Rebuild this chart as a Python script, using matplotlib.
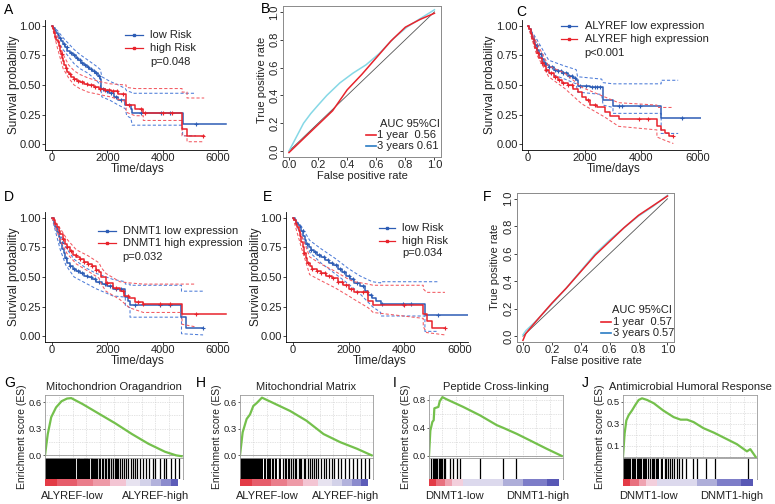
import numpy as np
import matplotlib
matplotlib.use("Agg")
import matplotlib.pyplot as plt

plt.rcParams['font.family'] = ['Liberation Sans', 'DejaVu Sans']
plt.rcParams['axes.linewidth'] = 0.6

# ---------------- data ----------------
# Panel A (risk model, KM)
A_low_t = [0, 50, 100, 150, 200, 260, 320, 400, 480, 560, 650, 750, 850, 950, 1050, 1150, 1250, 1350, 1450, 1550, 1650, 1720, 1780, 1900, 2050, 2250, 2400, 2650, 2850, 2900, 4720]
A_low_s = [1.0, 0.98, 0.96, 0.94, 0.92, 0.90, 0.87, 0.85, 0.82, 0.79, 0.77, 0.75, 0.73, 0.71, 0.69, 0.67, 0.65, 0.635, 0.62, 0.60, 0.58, 0.55, 0.47, 0.45, 0.43, 0.40, 0.37, 0.33, 0.30, 0.26, 0.17]
A_low_end = 6300
A_low_ci_t = [0, 200, 400, 600, 800, 1000, 1300, 1600, 1750, 1800, 2100, 2400, 2650, 2700, 2850, 2900, 4720, 4720, 5200]
A_low_up = [1.0, 0.96, 0.90, 0.85, 0.80, 0.76, 0.71, 0.66, 0.63, 0.57, 0.53, 0.50, 0.47, 0.45, 0.44, 0.43, 0.43, 0.43, 0.43]
A_low_lo = [1.0, 0.88, 0.80, 0.74, 0.68, 0.64, 0.60, 0.54, 0.50, 0.40, 0.37, 0.33, 0.30, 0.24, 0.22, 0.16, 0.16, 0.07, 0.07]
A_low_cens = [300, 420, 550, 680, 800, 900, 1000, 1100, 1200, 1300, 1400, 1500, 1600, 1700, 1850, 2000, 2150, 2300, 2500, 3200, 3950, 4250, 5200]

A_high_t = [0, 40, 80, 120, 160, 200, 240, 280, 320, 360, 400, 450, 500, 560, 620, 700, 800, 900, 1000, 1150, 1300, 1500, 1700, 1900, 2150, 2400, 2680, 3000, 3300, 4700, 4880]
A_high_s = [1.0, 0.97, 0.94, 0.91, 0.88, 0.86, 0.83, 0.79, 0.76, 0.73, 0.70, 0.67, 0.64, 0.61, 0.59, 0.57, 0.55, 0.535, 0.525, 0.51, 0.50, 0.48, 0.47, 0.46, 0.45, 0.42, 0.33, 0.30, 0.26, 0.13, 0.07]
A_high_end = 5500
A_high_ci_t = [0, 200, 400, 600, 800, 1000, 1300, 1700, 2100, 2680, 2680, 3000, 3300, 3300, 4700, 4700, 4880, 4880, 5500]
A_high_up = [1.0, 0.91, 0.76, 0.67, 0.62, 0.59, 0.56, 0.53, 0.51, 0.50, 0.48, 0.47, 0.47, 0.47, 0.47, 0.44, 0.44, 0.39, 0.39]
A_high_lo = [1.0, 0.81, 0.64, 0.56, 0.50, 0.47, 0.44, 0.42, 0.40, 0.36, 0.27, 0.24, 0.24, 0.20, 0.20, 0.07, 0.07, 0.02, 0.02]
A_high_cens = [350, 500, 650, 800, 950, 1100, 1250, 1400, 1550, 1750, 1900, 2050, 2200, 2350, 2550, 2800, 3200, 3350, 4000, 4350, 5450]

# Panel C (ALYREF expression, KM)
C_low_t = [0, 50, 100, 150, 200, 260, 330, 400, 480, 560, 650, 750, 900, 1050, 1200, 1400, 1600, 1700, 1750, 2200, 2650, 3000, 4700]
C_low_s = [1.0, 0.97, 0.94, 0.91, 0.88, 0.84, 0.80, 0.76, 0.72, 0.69, 0.67, 0.65, 0.63, 0.615, 0.60, 0.58, 0.56, 0.54, 0.49, 0.48, 0.37, 0.32, 0.22]
C_low_end = 6150
C_low_ci_t = [0, 300, 730, 1300, 1700, 1750, 2600, 2650, 3000, 3000, 4700, 4700, 5300]
C_low_up = [1.0, 0.89, 0.71, 0.66, 0.63, 0.57, 0.55, 0.52, 0.51, 0.51, 0.51, 0.54, 0.54]
C_low_lo = [1.0, 0.80, 0.60, 0.55, 0.51, 0.44, 0.42, 0.33, 0.31, 0.26, 0.26, 0.09, 0.09]
C_low_cens = [300, 450, 600, 750, 850, 950, 1050, 1150, 1250, 1350, 1450, 1550, 1650, 1850, 2050, 2250, 2350, 2450, 2550, 3200, 3300, 3950, 5450]

C_high_t = [0, 50, 100, 150, 200, 260, 330, 400, 480, 560, 650, 750, 900, 1050, 1200, 1400, 1600, 1750, 1900, 2050, 2200, 2450, 2700, 2900, 3200, 4550, 4700, 4850, 4980]
C_high_s = [1.0, 0.97, 0.93, 0.89, 0.85, 0.81, 0.77, 0.73, 0.69, 0.66, 0.63, 0.60, 0.57, 0.545, 0.52, 0.50, 0.47, 0.44, 0.40, 0.37, 0.33, 0.31, 0.27, 0.24, 0.21, 0.155, 0.12, 0.09, 0.065]
C_high_end = 5130
C_high_ci_t = [0, 300, 730, 1300, 1900, 2700, 3200, 4550, 4550, 4850, 5130]
C_high_up = [1.0, 0.86, 0.66, 0.60, 0.48, 0.40, 0.35, 0.33, 0.31, 0.31, 0.31]
C_high_lo = [1.0, 0.76, 0.57, 0.47, 0.34, 0.23, 0.15, 0.12, 0.06, 0.03, 0.005]
C_high_cens = [350, 500, 650, 800, 950, 1100, 1250, 1400, 1550, 2100, 2350, 3900, 4250, 5130]

# Panel D (DNMT1 expression, KM)
D_low_t = [0, 60, 120, 180, 240, 300, 360, 420, 480, 560, 650, 750, 850, 1000, 1150, 1300, 1450, 1600, 1800, 2000, 2200, 2650, 2750, 2820, 4680, 4850]
D_low_s = [1.0, 0.96, 0.92, 0.88, 0.84, 0.79, 0.74, 0.70, 0.66, 0.62, 0.59, 0.57, 0.55, 0.53, 0.51, 0.50, 0.48, 0.46, 0.445, 0.42, 0.40, 0.33, 0.30, 0.26, 0.16, 0.07]
D_low_end = 5460
D_low_ci_t = [0, 300, 500, 800, 1200, 1600, 2200, 2650, 2650, 2820, 2820, 4680, 4680, 5460]
D_low_up = [1.0, 0.86, 0.75, 0.65, 0.58, 0.53, 0.48, 0.46, 0.44, 0.44, 0.43, 0.43, 0.38, 0.38]
D_low_lo = [1.0, 0.73, 0.60, 0.50, 0.45, 0.40, 0.34, 0.33, 0.26, 0.24, 0.16, 0.16, 0.02, 0.01]
D_low_cens = [350, 500, 650, 800, 950, 1100, 1250, 1400, 1550, 1700, 1900, 2100, 2300, 2500, 3000, 3900, 4250, 5460]

D_high_t = [0, 60, 120, 180, 240, 300, 380, 460, 540, 640, 760, 880, 1000, 1150, 1300, 1450, 1600, 1700, 1780, 1950, 2200, 2450, 2600, 2800, 3000, 3300, 4700]
D_high_s = [1.0, 0.98, 0.95, 0.92, 0.89, 0.86, 0.82, 0.78, 0.75, 0.72, 0.69, 0.67, 0.65, 0.63, 0.61, 0.59, 0.56, 0.54, 0.50, 0.45, 0.41, 0.38, 0.34, 0.32, 0.29, 0.27, 0.185]
D_high_end = 6300
D_high_ci_t = [0, 300, 540, 880, 1300, 1700, 1780, 1950, 2450, 2800, 3300, 4700, 4700, 5150]
D_high_up = [1.0, 0.91, 0.82, 0.73, 0.68, 0.62, 0.58, 0.53, 0.46, 0.45, 0.44, 0.44, 0.44, 0.44]
D_high_lo = [1.0, 0.81, 0.70, 0.61, 0.55, 0.49, 0.44, 0.38, 0.31, 0.24, 0.20, 0.20, 0.10, 0.08]
D_high_cens = [400, 550, 700, 850, 1000, 1150, 1300, 1450, 1600, 2000, 2300, 2550, 2750, 3100, 3300, 3900, 4250, 5200]

# Panel E (risk model, KM)
E_low_t = [0, 60, 120, 180, 240, 300, 360, 420, 480, 560, 650, 750, 850, 1000, 1150, 1300, 1450, 1600, 1750, 1900, 2050, 2200, 2400, 2600, 2700, 2850, 3000, 3150, 4740]
E_low_s = [1.0, 0.98, 0.96, 0.94, 0.92, 0.89, 0.85, 0.81, 0.78, 0.75, 0.73, 0.71, 0.69, 0.67, 0.64, 0.62, 0.60, 0.57, 0.54, 0.51, 0.48, 0.45, 0.42, 0.38, 0.35, 0.32, 0.30, 0.27, 0.18]
E_low_end = 6300
E_low_ci_t = [0, 300, 600, 1000, 1500, 2000, 2400, 2850, 3150, 3150, 4740, 4740, 5220]
E_low_up = [1.0, 0.93, 0.81, 0.74, 0.66, 0.57, 0.51, 0.46, 0.45, 0.46, 0.46, 0.46, 0.46]
E_low_lo = [1.0, 0.85, 0.71, 0.62, 0.53, 0.44, 0.36, 0.25, 0.20, 0.17, 0.17, 0.04, 0.04]
E_low_cens = [350, 500, 650, 800, 950, 1100, 1250, 1400, 1550, 1700, 1850, 2000, 2150, 2300, 2500, 2800, 3200, 3950, 4250, 5200]

E_high_t = [0, 50, 100, 150, 200, 250, 300, 350, 400, 450, 520, 600, 700, 850, 1000, 1200, 1400, 1600, 1800, 2000, 2200, 2700, 2880, 4680, 4800, 5000]
E_high_s = [1.0, 0.98, 0.95, 0.92, 0.89, 0.85, 0.80, 0.75, 0.70, 0.66, 0.62, 0.59, 0.57, 0.55, 0.535, 0.51, 0.49, 0.46, 0.43, 0.40, 0.375, 0.30, 0.26, 0.185, 0.13, 0.065]
E_high_end = 5460
E_high_ci_t = [0, 300, 600, 1000, 1500, 2000, 2200, 2700, 2880, 4680, 4680, 4800, 5460]
E_high_up = [1.0, 0.86, 0.67, 0.61, 0.55, 0.48, 0.46, 0.44, 0.43, 0.43, 0.40, 0.37, 0.37]
E_high_lo = [1.0, 0.75, 0.52, 0.47, 0.41, 0.34, 0.31, 0.24, 0.20, 0.15, 0.08, 0.03, 0.01]
E_high_cens = [400, 550, 700, 850, 1000, 1150, 1300, 1450, 1600, 1750, 1900, 2100, 2300, 2500, 2650, 4000, 5460]

# ROC panels
B_fpr1 = [0, 0.05, 0.1, 0.2, 0.3, 0.4, 0.5, 0.6, 0.7, 0.8, 0.9, 1.0]
B_tpr1 = [-0.01, 0.04, 0.09, 0.19, 0.29, 0.44, 0.55, 0.67, 0.79, 0.89, 0.945, 0.99]
B_fpr3 = [0, 0.05, 0.1, 0.15, 0.2, 0.26, 0.35, 0.44, 0.53, 0.62, 0.72, 0.81, 0.9, 1.0]
B_tpr3 = [0.0, 0.1, 0.2, 0.27, 0.33, 0.40, 0.49, 0.56, 0.62, 0.70, 0.81, 0.89, 0.95, 1.015]
F_fpr1 = [0, 0.02, 0.1, 0.2, 0.3, 0.4, 0.5, 0.6, 0.7, 0.8, 0.9, 1.0]
F_tpr1 = [-0.03, 0.02, 0.12, 0.24, 0.35, 0.47, 0.59, 0.69, 0.79, 0.88, 0.95, 1.02]
F_fpr3 = [0, 0.02, 0.1, 0.2, 0.3, 0.4, 0.5, 0.6, 0.7, 0.8, 0.9, 1.0]
F_tpr3 = [0.01, 0.04, 0.12, 0.235, 0.35, 0.475, 0.60, 0.70, 0.79, 0.875, 0.945, 1.025]
roc_ticks = [0.0, 0.2, 0.4, 0.6, 0.8, 1.0]
roc_ticklabels = ["0.0", "0.2", "0.4", "0.6", "0.8", "1.0"]

# GSEA panels (x = fraction of ranked list)
G_x = [0, 0.02, 0.045, 0.08, 0.12, 0.16, 0.19, 0.27, 0.39, 0.51, 0.63, 0.75, 0.87, 0.95, 0.99]
G_es = [0, 0.24, 0.43, 0.54, 0.61, 0.64, 0.645, 0.58, 0.47, 0.36, 0.24, 0.13, 0.04, 0.0, -0.01]
G_blocks = [(0.0, 0.225), (0.236, 0.25), (0.285, 0.31), (0.33, 0.345), (0.395, 0.405), (0.46, 0.47), (0.51, 0.52)]
G_hits = [0.23, 0.255, 0.262, 0.27, 0.278, 0.315, 0.322, 0.35, 0.358, 0.365, 0.372, 0.38, 0.39, 0.41, 0.42, 0.435, 0.445, 0.455, 0.475, 0.48, 0.49, 0.505, 0.525, 0.53, 0.545, 0.56, 0.575, 0.59, 0.60, 0.62, 0.635, 0.65, 0.665, 0.69, 0.71, 0.73, 0.75, 0.78, 0.80, 0.83, 0.86, 0.88, 0.91, 0.94, 0.97]
H_x = [0, 0.02, 0.05, 0.075, 0.10, 0.126, 0.165, 0.25, 0.377, 0.5, 0.628, 0.754, 0.88, 0.99]
H_es = [0, 0.26, 0.41, 0.46, 0.556, 0.59, 0.65, 0.59, 0.50, 0.39, 0.24, 0.148, 0.074, 0.0]
H_blocks = [(0.0, 0.17), (0.18, 0.195), (0.21, 0.23), (0.26, 0.28), (0.295, 0.31), (0.34, 0.355)]
H_hits = [0.20, 0.24, 0.25, 0.29, 0.32, 0.335, 0.36, 0.37, 0.385, 0.40, 0.41, 0.42, 0.44, 0.45, 0.46, 0.48, 0.49, 0.51, 0.525, 0.54, 0.56, 0.575, 0.59, 0.61, 0.63, 0.65, 0.67, 0.69, 0.71, 0.74, 0.76, 0.79, 0.82, 0.85, 0.88, 0.91, 0.94, 0.97]
I_x = [0, 0.01, 0.025, 0.035, 0.04, 0.07, 0.08, 0.10, 0.13, 0.255, 0.38, 0.505, 0.555, 0.655, 0.755, 0.88, 0.99]
I_es = [0, 0.36, 0.485, 0.51, 0.68, 0.70, 0.78, 0.84, 0.81, 0.70, 0.58, 0.44, 0.40, 0.315, 0.22, 0.10, 0.0]
I_blocks = []
I_hits = [0.018, 0.03, 0.038, 0.048, 0.055, 0.063, 0.073, 0.08, 0.09, 0.098, 0.11, 0.118, 0.155, 0.18, 0.21, 0.23, 0.38, 0.555, 0.65]
J_x = [0, 0.012, 0.025, 0.042, 0.067, 0.092, 0.117, 0.142, 0.18, 0.23, 0.30, 0.378, 0.43, 0.478, 0.527, 0.60, 0.677, 0.776, 0.85, 0.925, 0.95, 0.99]
J_es = [0, 0.21, 0.33, 0.377, 0.42, 0.47, 0.515, 0.53, 0.515, 0.485, 0.42, 0.36, 0.337, 0.337, 0.315, 0.26, 0.22, 0.16, 0.115, 0.05, 0.07, 0.0]
J_blocks = [(0.0, 0.06), (0.07, 0.10), (0.115, 0.14), (0.16, 0.18), (0.25, 0.27), (0.29, 0.30)]
J_hits = [0.065, 0.105, 0.15, 0.19, 0.20, 0.215, 0.225, 0.235, 0.245, 0.28, 0.31, 0.32, 0.335, 0.35, 0.365, 0.38, 0.40, 0.42, 0.44, 0.47, 0.52, 0.55, 0.62, 0.69, 0.93]

ALY_edges = [0, 0.09, 0.23, 0.35, 0.47, 0.59, 0.69, 0.77, 0.84, 0.91, 0.965, 1.0]
ALY_cols = ["#e33b46", "#e65d6b", "#ea7d8b", "#ee9aa7", "#f3c5d3", "#e7e3f0", "#d3d2e9", "#b2b2dc", "#8b8bcd", "#5c5cb8", "#ffffff"]
DN_edges = [0, 0.055, 0.12, 0.17, 0.255, 0.555, 0.705, 0.88, 0.97, 1.0]
DN_cols = ["#e33b46", "#e8707e", "#efa3b1", "#f3cfdc", "#dcd9ed", "#aeaed9", "#7d7dc8", "#5858b5", "#ffffff"]

# ---------------- figure ----------------
W, H = 775, 504
fig = plt.figure(figsize=(W / 100, H / 100), dpi=100)


def rect(x0, y0, x1, y1):
    return [x0 / W, 1 - y1 / H, (x1 - x0) / W, (y1 - y0) / H]


def ftext(px, py, s, **kw):
    kw.setdefault('ha', 'center')
    kw.setdefault('va', 'center')
    fig.text(px / W, 1 - py / H, s, **kw)


BLUE, BLUE_CI = "#2d5db5", "#4d7cd8"
RED, RED_CI = "#e8232c", "#f25a62"
TXT = "#222222"


def km_axes(r, xlim):
    ax = fig.add_axes(r)
    ax.set_xlim(*xlim)
    ax.set_ylim(-0.05, 1.05)
    for sp in ['top', 'right']:
        ax.spines[sp].set_visible(False)
    ax.set_xticks([0, 2000, 4000, 6000])
    ax.set_yticks([0, 0.25, 0.5, 0.75, 1.0])
    ax.set_yticklabels(['0.00', '0.25', '0.50', '0.75', '1.00'])
    ax.tick_params(labelsize=8, length=2, width=0.6, pad=1, colors=TXT)
    ax.tick_params(axis='x', pad=0.3)
    return ax


def km_group(ax, t, s, tend, ci_t, up, lo, cens, col, ccol):
    dash = (0, (3, 2))
    ax.plot(ci_t, up, color=ccol, lw=0.75, ls=dash)
    ax.plot(ci_t, lo, color=ccol, lw=0.75, ls=dash)
    ax.step(list(t) + [tend], list(s) + [s[-1]], where='post', color=col, lw=1.1)
    idx = np.searchsorted(np.array(t), np.array(cens), side='right') - 1
    ax.plot(cens, np.array(s)[idx], ls='none', marker='+', ms=3.5, mew=0.8, color=col)


def km_legend(ax, lx0, lx1, tx, ys, labels, ptext, cols):
    for y, lab, c in zip(ys[:2], labels, cols):
        ax.plot([lx0, lx1], [y, y], transform=ax.transAxes, color=c, lw=0.9, clip_on=False)
        ax.plot([(lx0 + lx1) / 2], [y], transform=ax.transAxes, marker='s', ms=2.0, color=c, clip_on=False)
        ax.text(tx, y, lab, transform=ax.transAxes, va='center', ha='left', fontsize=8, color=TXT)
    ax.text(tx, ys[2], ptext, transform=ax.transAxes, va='center', ha='left', fontsize=8, color=TXT)


# Panel A
axA = km_axes(rect(45, 20, 227, 150), (-253, 6325))
km_group(axA, A_low_t, A_low_s, A_low_end, A_low_ci_t, A_low_up, A_low_lo, A_low_cens, BLUE, BLUE_CI)
km_group(axA, A_high_t, A_high_s, A_high_end, A_high_ci_t, A_high_up, A_high_lo, A_high_cens, RED, RED_CI)
km_legend(axA, 0.44, 0.54, 0.577, [0.885, 0.785, 0.677], ["low Risk", "high Risk"], "p=0.048", [BLUE, RED])
ftext(14, 85, "Survival probability", rotation=90, fontsize=8.5, color=TXT)
ftext(138, 169, "Time/days", fontsize=8.5, color=TXT)
ftext(9, 10, "A", fontsize=10)

# Panel C
axC = km_axes(rect(522, 20, 701, 150), (-212, 6106))
km_group(axC, C_low_t, C_low_s, C_low_end, C_low_ci_t, C_low_up, C_low_lo, C_low_cens, BLUE, BLUE_CI)
km_group(axC, C_high_t, C_high_s, C_high_end, C_high_ci_t, C_high_up, C_high_lo, C_high_cens, RED, RED_CI)
km_legend(axC, 0.22, 0.31, 0.35, [0.954, 0.854, 0.746], ["ALYREF low expression", "ALYREF high expression"], "p<0.001", [BLUE, RED])
ftext(490, 85, "Survival probability", rotation=90, fontsize=8.5, color=TXT)
ftext(614, 169, "Time/days", fontsize=8.5, color=TXT)
ftext(521, 12, "C", fontsize=10)

# Panel D
axD = km_axes(rect(45, 212, 227, 342), (-253, 6325))
km_group(axD, D_low_t, D_low_s, D_low_end, D_low_ci_t, D_low_up, D_low_lo, D_low_cens, BLUE, BLUE_CI)
km_group(axD, D_high_t, D_high_s, D_high_end, D_high_ci_t, D_high_up, D_high_lo, D_high_cens, RED, RED_CI)
km_legend(axD, 0.29, 0.39, 0.426, [0.854, 0.762, 0.654], ["DNMT1 low expression", "DNMT1 high expression"], "p=0.032", [BLUE, RED])
ftext(14, 277, "Survival probability", rotation=90, fontsize=8.5, color=TXT)
ftext(138, 361, "Time/days", fontsize=8.5, color=TXT)
ftext(9, 197, "D", fontsize=10)

# Panel E
axE = km_axes(rect(286, 212, 468, 342), (-251, 6288))
km_group(axE, E_low_t, E_low_s, E_low_end, E_low_ci_t, E_low_up, E_low_lo, E_low_cens, BLUE, BLUE_CI)
km_group(axE, E_high_t, E_high_s, E_high_end, E_high_ci_t, E_high_up, E_high_lo, E_high_cens, RED, RED_CI)
km_legend(axE, 0.51, 0.60, 0.64, [0.877, 0.777, 0.685], ["low Risk", "high Risk"], "p=0.034", [BLUE, RED])
ftext(256, 277, "Survival probability", rotation=90, fontsize=8.5, color=TXT)
ftext(380, 361, "Time/days", fontsize=8.5, color=TXT)
ftext(268, 197, "E", fontsize=10)

# ROC panels
CYAN = "#86d8e6"
LEG3 = "#2a7cc4"


def roc_axes(r):
    ax = fig.add_axes(r)
    ax.set_xlim(-0.041, 1.045)
    ax.set_ylim(-0.042, 1.042)
    for sp in ax.spines.values():
        sp.set_color('#8a8a8a')
        sp.set_linewidth(0.7)
    ax.set_xticks(roc_ticks)
    ax.set_xticklabels(roc_ticklabels)
    ax.set_yticks(roc_ticks)
    ax.set_yticklabels(roc_ticklabels, rotation=90, va='center')
    ax.tick_params(labelsize=8, length=2, width=0.6, pad=0.5, colors=TXT)
    ax.plot([0, 1], [0, 1], color='#555555', lw=0.6)
    return ax


def roc_legend(ax, xr, y0, y1, y2, lx0, lx1, tx, t1, t3):
    ax.text(xr, y0, "AUC 95%CI", ha='right', va='center', fontsize=8, color=TXT)
    ax.plot([lx0, lx1], [y1, y1], color=RED, lw=1.2)
    ax.plot([lx0, lx1], [y2, y2], color=LEG3, lw=1.2)
    ax.text(tx, y1, t1, ha='left', va='center', fontsize=8, color=TXT)
    ax.text(tx, y2, t3, ha='left', va='center', fontsize=8, color=TXT)


axB = roc_axes(rect(283, 6, 441, 157))
axB.plot(B_fpr3, B_tpr3, color=CYAN, lw=1.1)
axB.plot(B_fpr1, B_tpr1, color=RED, lw=1.1)
roc_legend(axB, 1.04, 0.194, 0.115, 0.036, 0.53, 0.595, 0.607, "1 year  0.56", "3 years 0.61")
ftext(262, 80, "True positive rate", rotation=90, fontsize=8, color=TXT)
ftext(362, 176, "False positive rate", fontsize=8, color=TXT)
ftext(265, 9, "B", fontsize=10)

axF = roc_axes(rect(517, 193, 674, 342))
axF.plot(F_fpr3, F_tpr3, color=CYAN, lw=1.1)
axF.plot(F_fpr1, F_tpr1, color=RED, lw=1.1)
roc_legend(axF, 1.03, 0.193, 0.106, 0.027, 0.54, 0.61, 0.62, "1 year  0.57", "3 years 0.57")
ftext(495, 267, "True positive rate", rotation=90, fontsize=8, color=TXT)
ftext(596, 361, "False positive rate", fontsize=8, color=TXT)
ftext(487, 197, "F", fontsize=10)

# GSEA panels
GREEN = "#74c04c"


def gsea(x0, x1, title, xs, es, ylim, yticks, ytl, blocks, hits, edges, cols, lo_lab, hi_lab, letter, lx):
    ax = fig.add_axes(rect(x0, 395, x1, 458))
    ax.set_xlim(0, 1)
    ax.set_ylim(*ylim)
    ax.set_xticks([0.2, 0.4, 0.6, 0.8])
    ax.set_xticklabels([])
    ax.tick_params(axis='x', length=0)
    ax.set_yticks(yticks)
    ax.set_yticklabels(ytl)
    ax.tick_params(axis='y', labelsize=6.8, length=1.5, width=0.5, pad=0.8, colors=TXT)
    step = yticks[1] - yticks[0]
    for k in range(-2, 12):
        yv = yticks[0] + k * step / 2
        if ylim[0] < yv < ylim[1]:
            ax.axhline(yv, color='#c8c8c8', lw=0.5, ls=(0, (1, 1.5)), zorder=0)
    for xv in [0.1, 0.2, 0.3, 0.4, 0.5, 0.6, 0.7, 0.8, 0.9]:
        ax.axvline(xv, color='#c8c8c8', lw=0.5, ls=(0, (1, 1.5)), zorder=0)
    ax.axhline(0, color='#9a9a9a', lw=0.6)
    for sp in ax.spines.values():
        sp.set_color('#9a9a9a')
        sp.set_linewidth(0.6)
    ax.plot(xs, es, color=GREEN, lw=1.6)

    bx = fig.add_axes(rect(x0, 458, x1, 479))
    bx.set_xlim(0, 1)
    bx.set_ylim(0, 1)
    bx.set_xticks([])
    bx.set_yticks([])
    for a, b in blocks:
        bx.axvspan(a, b, color='black', lw=0)
    bx.vlines(hits, 0, 1, color='black', lw=0.9)
    for sp in bx.spines.values():
        sp.set_color('#9a9a9a')
        sp.set_linewidth(0.6)

    cx = fig.add_axes(rect(x0, 479, x1, 486))
    cx.set_xlim(0, 1)
    cx.set_ylim(0, 1)
    cx.set_xticks([])
    cx.set_yticks([])
    for i, c in enumerate(cols):
        cx.axvspan(edges[i], edges[i + 1], color=c, lw=0)
    for sp in cx.spines.values():
        sp.set_visible(False)

    ftext((x0 + x1) / 2, 387, title, fontsize=8, color=TXT)
    ftext(x0 - 23, 437, "Enrichment score (ES)", rotation=90, fontsize=7.5, color=TXT)
    ftext(x0 - 4, 496, lo_lab, ha='left', fontsize=8, color=TXT)
    ftext(x1 + 6, 496, hi_lab, ha='right', fontsize=8, color=TXT)
    ftext(lx, 383, letter, fontsize=10)


gsea(45, 183, "Mitochondrion Oragandrion", G_x, G_es, (-0.03, 0.68), [0.0, 0.3, 0.6], ["0.0", "0.3", "0.6"],
     G_blocks, G_hits, ALY_edges, ALY_cols, "ALYREF-low", "ALYREF-high", "G", 10)
gsea(240, 373, "Mitochondrial Matrix", H_x, H_es, (-0.03, 0.68), [0.0, 0.3, 0.6], ["0.0", "0.3", "0.6"],
     H_blocks, H_hits, ALY_edges, ALY_cols, "ALYREF-low", "ALYREF-high", "H", 201)
gsea(429, 563, "Peptide Cross-linking", I_x, I_es, (-0.03, 0.87), [0.0, 0.4, 0.8], ["0.0", "0.4", "0.8"],
     I_blocks, I_hits, DN_edges, DN_cols, "DNMT1-low", "DNMT1-high", "I", 395)
gsea(623, 757, "Antimicrobial Humoral Response", J_x, J_es, (-0.01, 0.56), [0.1, 0.3, 0.5], ["0.1", "0.3", "0.5"],
     J_blocks, J_hits, DN_edges, DN_cols, "DNMT1-low", "DNMT1-high", "J", 585)

fig.savefig("out.png", dpi=100)
